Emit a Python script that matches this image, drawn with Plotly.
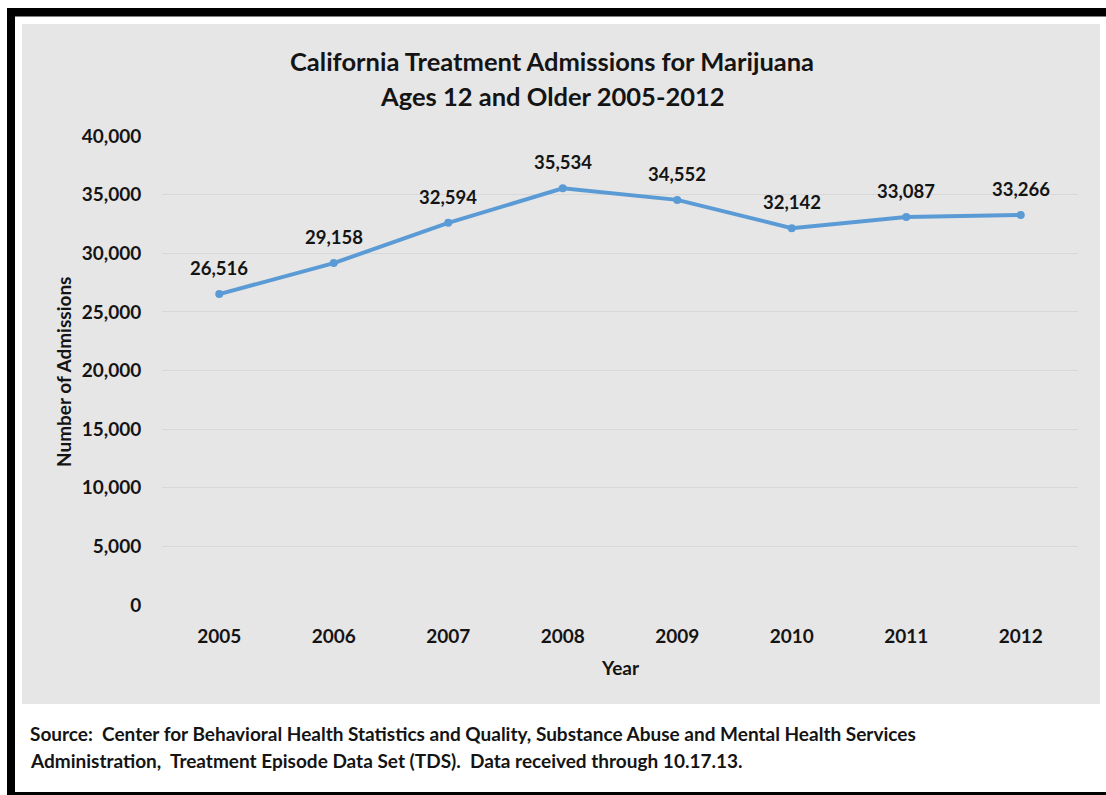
import plotly.graph_objects as go

# Annual marijuana treatment admissions, California, ages 12+
years = ["2005", "2006", "2007", "2008", "2009", "2010", "2011", "2012"]
admissions = [26516, 29158, 32594, 35534, 34552, 32142, 33087, 33266]
y_ticks = [0, 5000, 10000, 15000, 20000, 25000, 30000, 35000, 40000]

title_lines = ["California Treatment Admissions for Marijuana", "Ages 12 and Older 2005-2012"]
source_lines = [
    "Source:  Center for Behavioral Health Statistics and Quality, Substance Abuse and Mental Health Services",
    "Administration,  Treatment Episode Data Set (TDS).  Data received through 10.17.13.",
]

W, H = 1106, 795
L, R, T, B = 162, 1078, 136, 605  # plot area in pixels
FONT = "Lato"
INK = "#141414"
PANEL = "#e7e6e6"
LINE = "#5b9bd5"


def fx(px):
    return (px - L) / (R - L)


def fy(py):
    return (B - py) / (B - T)


def note(px, py, text, size, **kw):
    d = dict(x=fx(px), y=fy(py), xref="paper", yref="paper", text=text,
             showarrow=False, xanchor="center", yanchor="middle",
             font=dict(family=FONT, size=size, color=INK))
    d.update(kw)
    return d


fig = go.Figure()
fig.add_trace(go.Scatter(
    x=list(range(len(years))),
    y=admissions,
    mode="lines+markers",
    line=dict(color=LINE, width=4),
    marker=dict(color=LINE, size=8),
    hoverinfo="skip",
    showlegend=False,
))

annotations = []
for i, v in enumerate(admissions):
    annotations.append(dict(
        x=i, y=v, xref="x", yref="y", text=f"<b>{v:,}</b>", showarrow=False,
        xanchor="center", yanchor="middle", yshift=26,
        font=dict(family=FONT, size=18.5, color=INK),
    ))

for k, line in enumerate(title_lines):
    annotations.append(note(552, 61 + 35 * k, f"<b>{line}</b>", 25.5))
annotations.append(note(63, 372, "<b>Number of Admissions</b>", 19, textangle=-90))
annotations.append(note(620, 667, "<b>Year</b>", 19))
for k, line in enumerate(source_lines):
    annotations.append(note(28, 733 + 27 * k, f"<b>{line}</b>", 19, xanchor="left"))

shapes = [
    # grey chart panel
    dict(type="rect", xref="paper", yref="paper", x0=fx(22), x1=fx(1100),
         y0=fy(24), y1=fy(704), fillcolor=PANEL, line=dict(width=0), layer="below"),
    # black frame: top, left, bottom
    dict(type="rect", xref="paper", yref="paper", x0=fx(7), x1=fx(1106),
         y0=fy(8), y1=fy(16.5), fillcolor="black", line=dict(width=0), layer="below"),
    dict(type="rect", xref="paper", yref="paper", x0=fx(7), x1=fx(15),
         y0=fy(8), y1=fy(795), fillcolor="black", line=dict(width=0), layer="below"),
    dict(type="rect", xref="paper", yref="paper", x0=fx(7), x1=fx(1106),
         y0=fy(792), y1=fy(795), fillcolor="black", line=dict(width=0), layer="below"),
]

fig.update_layout(
    width=W, height=H,
    margin=dict(l=L, r=W - R, t=T, b=H - B, pad=0),
    paper_bgcolor="white",
    plot_bgcolor=PANEL,
    annotations=annotations,
    shapes=shapes,
    xaxis=dict(
        range=[-0.5, len(years) - 0.5],
        tickmode="array", tickvals=list(range(len(years))), ticktext=years,
        showgrid=False, zeroline=False, showline=False,
        ticks="outside", ticklen=14, tickcolor="rgba(0,0,0,0)",
        tickfont=dict(family=FONT, size=19, color=INK, weight="bold"),
    ),
    yaxis=dict(
        range=[0, 40000],
        tickmode="array", tickvals=y_ticks,
        ticktext=[f"{v:,}" for v in y_ticks],
        showgrid=True, gridcolor="#d8d8d8", gridwidth=1,
        zeroline=False, showline=False,
        ticks="outside", ticklen=16, tickcolor="rgba(0,0,0,0)",
        tickfont=dict(family=FONT, size=19, color=INK, weight="bold"),
    ),
)

fig.write_html("out.html")
